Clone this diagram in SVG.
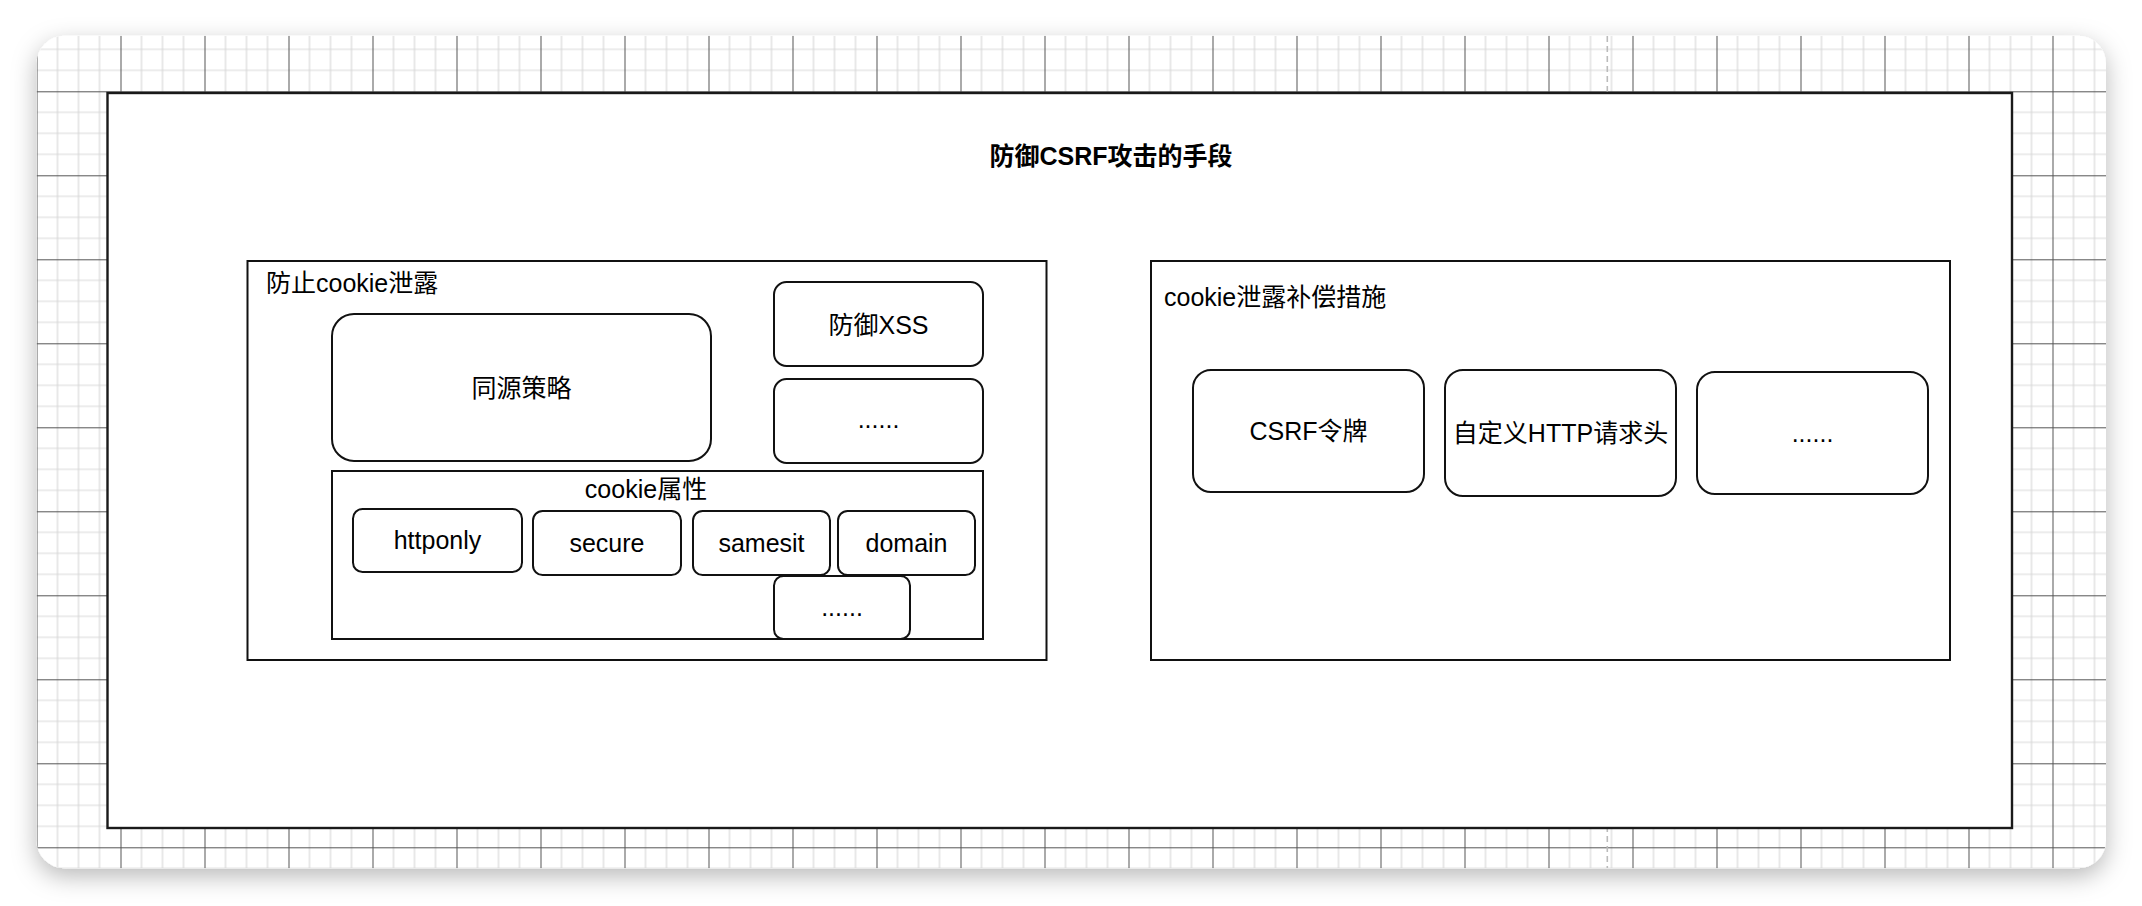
<svg xmlns="http://www.w3.org/2000/svg" width="2142" height="906" viewBox="0 0 2142 906">
  <defs>
    <style>
      .t { font-family: "Liberation Sans", "Noto Sans CJK SC", sans-serif; font-size: 25px; fill: #000; }
      .c { text-anchor: middle; }
      .b { font-weight: bold; }
      .box { fill: #fff; stroke: #111; stroke-width: 2; }
      .outer { fill: #fff; stroke: #1a1a1a; stroke-width: 2.4; }
    </style>
    <pattern id="grid" x="36.5" y="7.3" width="84" height="84" patternUnits="userSpaceOnUse">
      <path d="M21 0V84M42 0V84M63 0V84M0 21H84M0 42H84M0 63H84" stroke="#d9d9d9" stroke-width="1.2" fill="none"/>
      <path d="M0.5 0V84M0 0.5H84" stroke="#555" stroke-width="1" fill="none"/>
    </pattern>
    <filter id="shadow" x="-5%" y="-10%" width="110%" height="125%">
      <feDropShadow dx="0" dy="8" stdDeviation="12" flood-color="#000" flood-opacity="0.28"/>
    </filter>
    <clipPath id="cardClip">
      <rect x="36.5" y="35.7" width="2069.5" height="832.6" rx="28" ry="28"/>
    </clipPath>
  </defs>

  <rect width="2142" height="906" fill="#fff"/>

  <g id="card">
    <rect x="36.5" y="35.7" width="2069.5" height="832.6" rx="28" ry="28" fill="#fff" filter="url(#shadow)"/>
    <g clip-path="url(#cardClip)">
      <rect x="36.5" y="35.7" width="2069.5" height="832.6" fill="url(#grid)"/>
      <line x1="1607.3" y1="36" x2="1607.3" y2="868" stroke="#bbb" stroke-width="1.6" stroke-dasharray="6 4"/>
    </g>
  </g>

  <g id="outer">
    <rect class="outer" x="107.5" y="93" width="1904.5" height="735"/>
    <text class="t c b" x="1111" y="165">防御CSRF攻击的手段</text>
  </g>

  <g id="group-prevent">
    <rect class="box" x="247.5" y="261" width="799" height="399"/>
    <text class="t" x="266" y="291.5">防止cookie泄露</text>
  </g>

  <g id="node-same-origin">
    <rect class="box" x="332" y="314" width="379" height="147" rx="22" ry="22"/>
    <text class="t c" x="521.5" y="397">同源策略</text>
  </g>

  <g id="node-xss">
    <rect class="box" x="774" y="282" width="209" height="84" rx="12.6" ry="12.6"/>
    <text class="t c" x="878.5" y="333.5">防御XSS</text>
  </g>

  <g id="node-more-1">
    <rect class="box" x="774" y="379" width="209" height="84" rx="12.6" ry="12.6"/>
    <text class="t c" x="878.5" y="428">......</text>
  </g>

  <g id="group-cookie-attr">
    <rect class="box" x="332" y="471" width="651" height="168"/>
    <text class="t c" x="646" y="498">cookie属性</text>
  </g>

  <g id="node-httponly">
    <rect class="box" x="353" y="509" width="169" height="63" rx="9.5" ry="9.5"/>
    <text class="t c" x="437.5" y="548.5">httponly</text>
  </g>

  <g id="node-secure">
    <rect class="box" x="533" y="511" width="148" height="64" rx="9.6" ry="9.6"/>
    <text class="t c" x="607" y="551.5">secure</text>
  </g>

  <g id="node-samesit">
    <rect class="box" x="693" y="511" width="137" height="64" rx="9.6" ry="9.6"/>
    <text class="t c" x="761.5" y="551.5">samesit</text>
  </g>

  <g id="node-domain">
    <rect class="box" x="838" y="511" width="137" height="64" rx="9.6" ry="9.6"/>
    <text class="t c" x="906.5" y="551.5">domain</text>
  </g>

  <g id="node-more-2">
    <rect class="box" x="774" y="576" width="136" height="63" rx="9.5" ry="9.5"/>
    <text class="t c" x="842" y="615.5">......</text>
  </g>

  <g id="group-compensate">
    <rect class="box" x="1151" y="261" width="799" height="399"/>
    <text class="t" x="1164" y="305.5">cookie泄露补偿措施</text>
  </g>

  <g id="node-csrf-token">
    <rect class="box" x="1193" y="370" width="231" height="122" rx="18" ry="18"/>
    <text class="t c" x="1308.5" y="440">CSRF令牌</text>
  </g>

  <g id="node-custom-header">
    <rect class="box" x="1445" y="370" width="231" height="126" rx="18" ry="18"/>
    <text class="t c" x="1560.5" y="442">自定义HTTP请求头</text>
  </g>

  <g id="node-more-3">
    <rect class="box" x="1697" y="372" width="231" height="122" rx="18" ry="18"/>
    <text class="t c" x="1812.5" y="442">......</text>
  </g>

  <g id="connectors"/>
</svg>
